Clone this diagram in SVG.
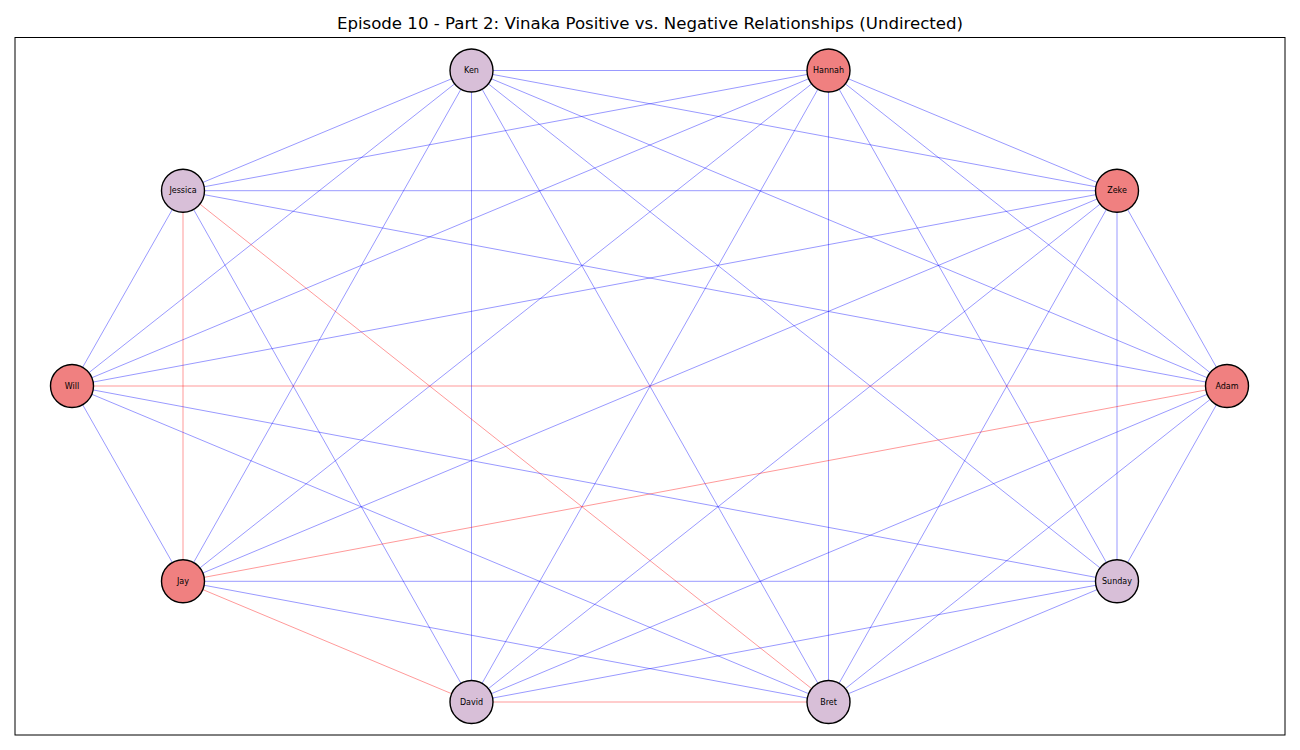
<svg xmlns="http://www.w3.org/2000/svg" width="1300" height="750" viewBox="0 0 1300 750">
<style>
.b{stroke:#0000ff;stroke-opacity:0.4;stroke-width:1}
.r{stroke:#ff0000;stroke-opacity:0.4;stroke-width:1}
.pos circle{fill:#d8bfd8;stroke:#000;stroke-width:1.4}
.neg circle{fill:#f08080;stroke:#000;stroke-width:1.4}
.lbl{font-family:"DejaVu Sans",sans-serif;font-size:8px;text-anchor:middle;dominant-baseline:central;fill:#000}
.title{font-family:"DejaVu Sans",sans-serif;font-size:16.6px;text-anchor:middle;fill:#000}
</style>
<rect width="1300" height="750" fill="#fff"/>
<text class="title" x="650" y="29">Episode 10 - Part 2: Vinaka Positive vs. Negative Relationships (Undirected)</text>
<rect x="15" y="37.5" width="1270" height="697.5" fill="none" stroke="#000" stroke-width="1"/>
<g id="edges">
<!-- Ken -->
<line class="b" x1="471.5" y1="70.5" x2="828.5" y2="70.5"/>
<line class="b" x1="471.5" y1="70.5" x2="183" y2="190.7"/>
<line class="b" x1="471.5" y1="70.5" x2="1117" y2="190.7"/>
<line class="b" x1="471.5" y1="70.5" x2="1227" y2="386"/>
<line class="b" x1="471.5" y1="70.5" x2="1117" y2="581.3"/>
<line class="b" x1="471.5" y1="70.5" x2="828.5" y2="702"/>
<line class="b" x1="471.5" y1="70.5" x2="471.5" y2="702"/>
<line class="b" x1="471.5" y1="70.5" x2="183" y2="581.3"/>
<line class="b" x1="471.5" y1="70.5" x2="72" y2="386"/>
<!-- Hannah -->
<line class="b" x1="828.5" y1="70.5" x2="183" y2="190.7"/>
<line class="b" x1="828.5" y1="70.5" x2="72" y2="386"/>
<line class="b" x1="828.5" y1="70.5" x2="183" y2="581.3"/>
<line class="b" x1="828.5" y1="70.5" x2="471.5" y2="702"/>
<line class="b" x1="828.5" y1="70.5" x2="828.5" y2="702"/>
<line class="b" x1="828.5" y1="70.5" x2="1117" y2="581.3"/>
<line class="b" x1="828.5" y1="70.5" x2="1227" y2="386"/>
<line class="b" x1="828.5" y1="70.5" x2="1117" y2="190.7"/>
<!-- Jessica -->
<line class="b" x1="183" y1="190.7" x2="1117" y2="190.7"/>
<line class="b" x1="183" y1="190.7" x2="1227" y2="386"/>
<line class="b" x1="183" y1="190.7" x2="72" y2="386"/>
<line class="r" x1="183" y1="190.7" x2="183" y2="581.3"/>
<line class="b" x1="183" y1="190.7" x2="471.5" y2="702"/>
<line class="r" x1="183" y1="190.7" x2="828.5" y2="702"/>
<!-- Zeke -->
<line class="b" x1="1117" y1="190.7" x2="72" y2="386"/>
<line class="b" x1="1117" y1="190.7" x2="183" y2="581.3"/>
<line class="b" x1="1117" y1="190.7" x2="471.5" y2="702"/>
<line class="b" x1="1117" y1="190.7" x2="828.5" y2="702"/>
<line class="b" x1="1117" y1="190.7" x2="1117" y2="581.3"/>
<line class="b" x1="1117" y1="190.7" x2="1227" y2="386"/>
<!-- Will -->
<line class="r" x1="72" y1="386" x2="1227" y2="386"/>
<line class="b" x1="72" y1="386" x2="1117" y2="581.3"/>
<line class="b" x1="72" y1="386" x2="828.5" y2="702"/>
<line class="b" x1="72" y1="386" x2="183" y2="581.3"/>
<!-- Adam -->
<line class="r" x1="1227" y1="386" x2="183" y2="581.3"/>
<line class="b" x1="1227" y1="386" x2="471.5" y2="702"/>
<line class="b" x1="1227" y1="386" x2="828.5" y2="702"/>
<line class="b" x1="1227" y1="386" x2="1117" y2="581.3"/>
<!-- Jay -->
<line class="b" x1="183" y1="581.3" x2="1117" y2="581.3"/>
<line class="b" x1="183" y1="581.3" x2="828.5" y2="702"/>
<line class="r" x1="183" y1="581.3" x2="471.5" y2="702"/>
<!-- Sunday -->
<line class="b" x1="1117" y1="581.3" x2="471.5" y2="702"/>
<line class="b" x1="1117" y1="581.3" x2="828.5" y2="702"/>
<!-- David -->
<line class="r" x1="471.5" y1="702" x2="828.5" y2="702"/>
</g>
<g id="node-ken" class="pos"><circle cx="471.5" cy="70.5" r="21.5"/><text class="lbl" x="471.5" y="70.5">Ken</text></g>
<g id="node-hannah" class="neg"><circle cx="828.5" cy="70.5" r="21.5"/><text class="lbl" x="828.5" y="70.5">Hannah</text></g>
<g id="node-jessica" class="pos"><circle cx="183" cy="190.7" r="21.5"/><text class="lbl" x="183" y="190.7">Jessica</text></g>
<g id="node-zeke" class="neg"><circle cx="1117" cy="190.7" r="21.5"/><text class="lbl" x="1117" y="190.7">Zeke</text></g>
<g id="node-will" class="neg"><circle cx="72" cy="386" r="21.5"/><text class="lbl" x="72" y="386">Will</text></g>
<g id="node-adam" class="neg"><circle cx="1227" cy="386" r="21.5"/><text class="lbl" x="1227" y="386">Adam</text></g>
<g id="node-jay" class="neg"><circle cx="183" cy="581.3" r="21.5"/><text class="lbl" x="183" y="581.3">Jay</text></g>
<g id="node-sunday" class="pos"><circle cx="1117" cy="581.3" r="21.5"/><text class="lbl" x="1117" y="581.3">Sunday</text></g>
<g id="node-david" class="pos"><circle cx="471.5" cy="702" r="21.5"/><text class="lbl" x="471.5" y="702">David</text></g>
<g id="node-bret" class="pos"><circle cx="828.5" cy="702" r="21.5"/><text class="lbl" x="828.5" y="702">Bret</text></g>
</svg>
